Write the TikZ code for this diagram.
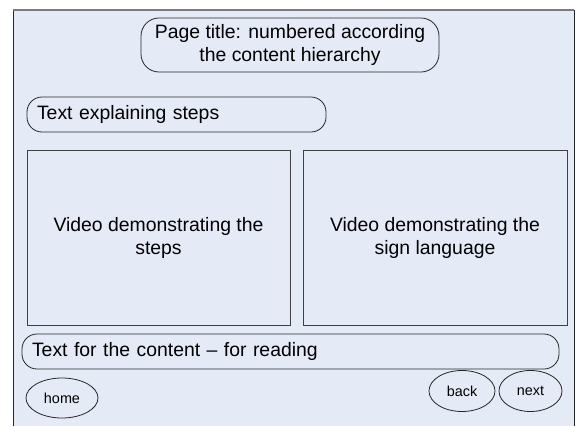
\documentclass[tikz,border=0pt]{standalone}
\usepackage{fontspec}
\setmainfont{Liberation Sans}
\usetikzlibrary{shapes.geometric}
\definecolor{screenbg}{HTML}{E5EBF6}
\definecolor{framegray}{HTML}{7A7A7A}

\begin{document}
\begin{tikzpicture}[x=1pt,y=-1pt,
    every node/.style={font=\fontsize{19.4}{23}\selectfont, inner sep=0pt},
    roundbox/.style={rectangle, draw=black!85, line width=0.8pt, rounded corners=15pt},
    leftbox/.style={roundbox, inner xsep=10pt, align=left},
    videobox/.style={rectangle, draw=black!75, line width=0.8pt, align=center, minimum height=175pt},
    navbtn/.style={ellipse, draw=black!85, line width=0.8pt, font=\fontsize{14.4}{17}\selectfont}]
    \useasboundingbox (0,0) rectangle (576,426);
    %
    % screen
    \fill[screenbg] (13,10) rectangle (574,426);
    \draw[black!85, line width=0.9pt] (13,426) -- (13,10);
    \draw[black!85, line width=0.9pt] (574,10) -- (574,426);
    \draw[framegray, line width=1.2pt] (13,10) -- (574,10);
    %
    \node[roundbox, rounded corners=18pt, align=center, minimum width=298pt, minimum height=54pt] (title) at (290,45)
      {Page title: numbered according\\the content hierarchy};
    %
    \node[leftbox, text width=279pt, minimum height=35pt] (steps_txt) at (176.5,114.5) {Text explaining steps};
    %
    \node[videobox, minimum width=263pt] (video_1) at (158.5,237.5) {Video demonstrating the\\steps};
    \node[videobox, minimum width=264pt] (video_2) at (435,237.5) {Video demonstrating the\\sign language};
    %
    \node[leftbox, text width=517pt, minimum height=35pt] (content_txt) at (290.5,351.5) {Text for the content -- for reading};
    %
    \node[navbtn, minimum width=72pt, minimum height=40pt] (home) at (62,398) {home};
    \node[navbtn, minimum width=66pt, minimum height=41pt] (back) at (462,391) {back};
    \node[navbtn, minimum width=63pt, minimum height=41pt] (next) at (530.5,391) {next};
\end{tikzpicture}
\end{document}
